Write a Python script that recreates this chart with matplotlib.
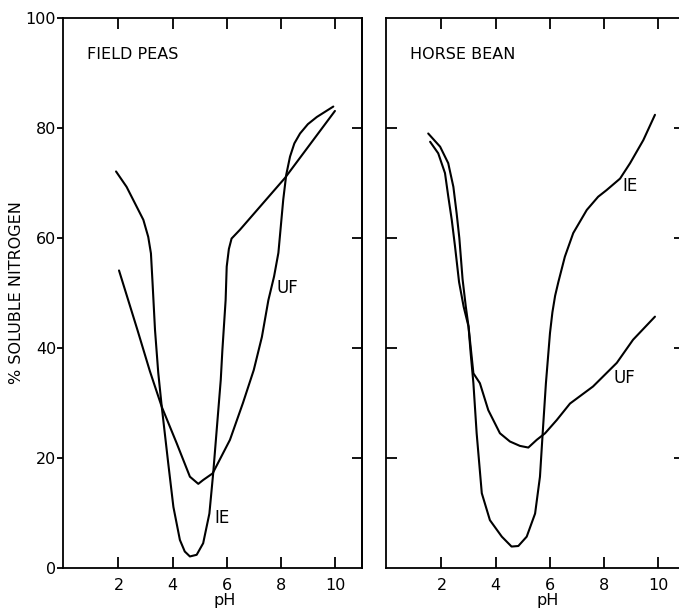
import matplotlib
matplotlib.use("Agg")
import matplotlib.pyplot as plt

# ---------------- data ----------------
# FIELD PEAS
fp_ie_ph = [1.91, 2.3, 2.61, 2.92, 3.1, 3.2, 3.26, 3.35, 3.47, 3.6, 3.84, 4.03, 4.27, 4.45, 4.64, 4.89, 5.13, 5.36, 5.5, 5.63, 5.78, 5.84, 5.96, 6.0, 6.08, 6.18, 6.49, 8.15, 10.0]
fp_ie_val = [72.1, 69.3, 66.3, 63.3, 60.2, 57.2, 51.8, 43.3, 35.5, 29.3, 19.0, 11.1, 5.1, 3.0, 2.1, 2.4, 4.5, 9.9, 17.2, 25.1, 34.2, 39.6, 48.7, 54.8, 58.0, 59.9, 61.5, 70.9, 83.1]

fp_uf_ph = [2.02, 2.36, 2.7, 3.16, 3.6, 4.15, 4.64, 4.95, 5.13, 5.48, 6.12, 6.6, 7.0, 7.3, 7.54, 7.75, 7.91, 8.09, 8.2, 8.34, 8.5, 8.71, 9.0, 9.33, 9.94]
fp_uf_val = [54.1, 48.7, 43.3, 35.8, 29.3, 22.7, 16.6, 15.3, 16.0, 17.2, 23.3, 30.0, 36.0, 42.0, 48.7, 53.0, 57.3, 67.0, 71.5, 74.8, 77.2, 79.0, 80.7, 82.0, 83.9]

# HORSE BEAN
hb_ie_ph = [1.51, 1.95, 2.25, 2.44, 2.56, 2.66, 2.78, 2.9, 3.0, 3.08, 3.18, 3.3, 3.49, 3.79, 4.23, 4.59, 4.84, 5.15, 5.46, 5.64, 5.74, 5.86, 6.01, 6.1, 6.2, 6.32, 6.56, 6.87, 7.37, 7.79, 8.1, 8.6, 8.97, 9.46, 9.89]
hb_ie_val = [79.0, 76.6, 73.6, 69.3, 64.5, 60.0, 52.5, 47.5, 43.9, 39.0, 33.6, 24.5, 13.6, 8.7, 5.7, 3.9, 4.0, 5.7, 9.9, 16.6, 24.5, 33.6, 42.7, 46.5, 49.5, 52.0, 56.6, 60.9, 65.1, 67.5, 68.7, 70.8, 73.6, 77.8, 82.4]

hb_uf_ph = [1.58, 1.88, 2.13, 2.25, 2.38, 2.5, 2.65, 2.82, 3.0, 3.18, 3.42, 3.73, 4.16, 4.53, 4.9, 5.21, 5.52, 5.83, 6.26, 6.75, 7.6, 8.48, 9.08, 9.89]
hb_uf_val = [77.5, 75.4, 71.8, 67.6, 63.3, 58.5, 52.0, 47.5, 43.9, 35.4, 33.6, 28.7, 24.5, 23.0, 22.2, 21.9, 23.3, 24.5, 26.9, 29.9, 33.0, 37.3, 41.5, 45.7]

panel_titles = ["FIELD PEAS", "HORSE BEAN"]
x_ticks = [2, 4, 6, 8, 10]
y_ticks = [0, 20, 40, 60, 80, 100]

# curve labels: (text, pH, value)
fp_labels = [("UF", 8.26, 50.9), ("IE", 5.83, 9.1)]
hb_labels = [("IE", 8.97, 69.5), ("UF", 8.75, 34.5)]

# ---------------- figure ----------------
plt.rcParams['font.family'] = ['DejaVu Sans']
fig = plt.figure(figsize=(6.79, 6.09), dpi=100)

W, H = 679, 609
def pos(x0, x1, y_top, y_bot):
    return [x0 / W, 1 - y_bot / H, (x1 - x0) / W, (y_bot - y_top) / H]

ax1 = fig.add_axes(pos(63, 362, 18, 568))
ax2 = fig.add_axes(pos(386, 685, 18, 568))

panels = [
    (ax1, [(fp_ie_ph, fp_ie_val), (fp_uf_ph, fp_uf_val)], fp_labels, panel_titles[0]),
    (ax2, [(hb_ie_ph, hb_ie_val), (hb_uf_ph, hb_uf_val)], hb_labels, panel_titles[1]),
]

for i, (ax, curves, labels, title) in enumerate(panels):
    for xs, ys in curves:
        ax.plot(xs, ys, color='black', lw=1.5, solid_capstyle='round', solid_joinstyle='round')
    for t, x, y in labels:
        ax.text(x, y, t, fontsize=12, ha='center', va='center')
    ax.text(0.85, 93.3, title, fontsize=11.5, ha='left', va='center')
    ax.set_xlim(-0.05, 11.0)
    ax.set_ylim(0, 100)
    for s in ax.spines.values():
        s.set_linewidth(1.3)
    ax.set_xticks(x_ticks)
    ax.set_xticklabels([str(v) for v in x_ticks], fontsize=11.5)
    ax.tick_params(axis='x', which='both', direction='in', top=True, bottom=True,
                   length=8, width=1.3, pad=7)
    ax.set_yticks(y_ticks)
    ax.set_xlabel("pH", fontsize=11.5, labelpad=0)
    ax.xaxis.set_label_coords(0.54, -0.045)
    if i == 0:
        ax.set_yticklabels([str(v) for v in y_ticks], fontsize=11.5)
        ax.tick_params(axis='y', direction='out', left=True, right=False,
                       length=4, width=1.3, pad=1)
        sec = ax.secondary_yaxis('right')
        sec.set_yticks(y_ticks[1:-1])
        sec.set_yticklabels([])
        sec.tick_params(direction='in', length=7, width=1.3)
        sec.spines['right'].set_linewidth(1.3)
        ax.set_ylabel("% SOLUBLE NITROGEN", fontsize=11.5)
        ax.yaxis.set_label_coords(-0.13, 0.5)
    else:
        ax.set_yticks(y_ticks[1:-1])
        ax.set_yticklabels([])
        ax.tick_params(axis='y', direction='in', left=True, right=True,
                       length=8, width=1.3)

fig.savefig("out.png", dpi=100)
